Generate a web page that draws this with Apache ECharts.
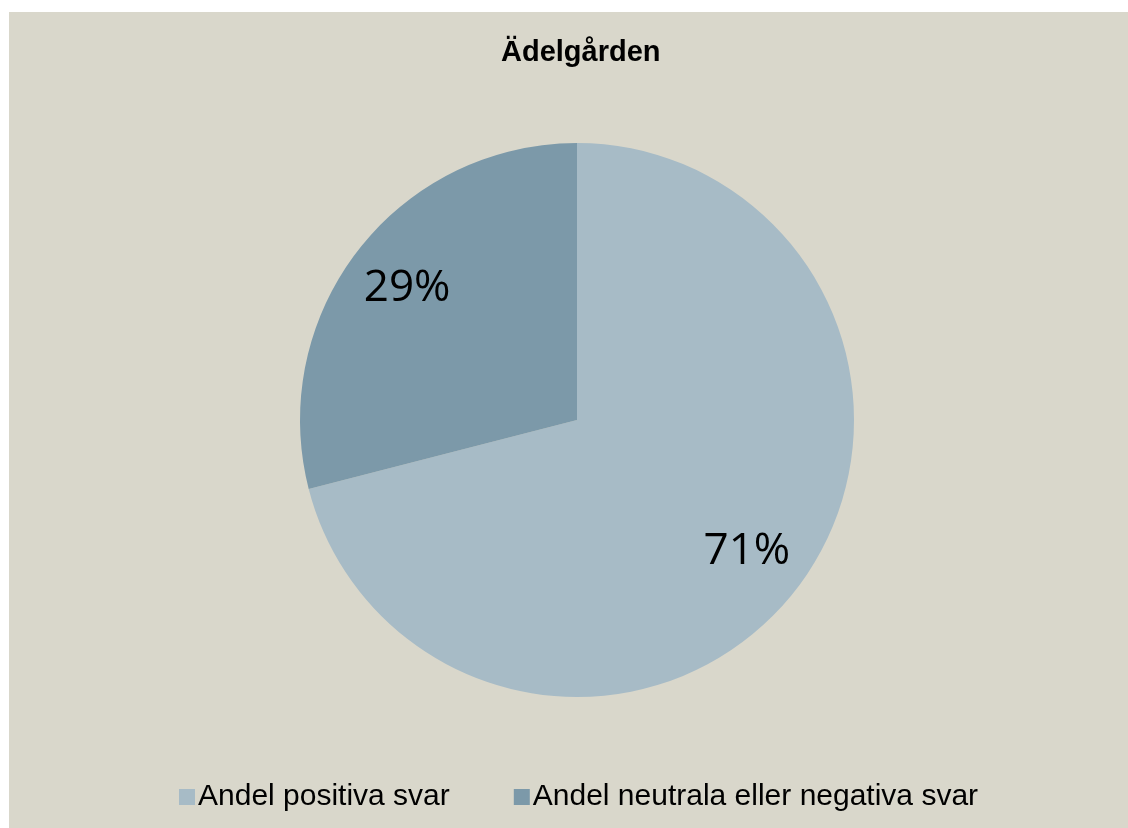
<!DOCTYPE html>
<html lang="sv">
<head>
<meta charset="utf-8">
<script src="https://cdn.jsdelivr.net/npm/echarts@6/dist/echarts.min.js"></script>
<style>
  html, body { margin: 0; padding: 0; background: #ffffff; }
  #frame { position: absolute; left: 9px; top: 12px; width: 1119px; height: 816px; background: #d9d7cb; }
  #main { width: 1119px; height: 816px; }
</style>
</head>
<body>
<div id="frame"><div id="main"></div></div>
<script type="text/javascript">
  var chartTitle = 'Ädelgården';
  var categories = ['Andel positiva svar', 'Andel neutrala eller negativa svar'];
  var shares = [71, 29];
  var sliceColors = ['#a7bbc6', '#7c99a9'];

  var pieData = categories.map(function(name, i) {
    return { name: name, value: shares[i], itemStyle: { color: sliceColors[i] } };
  });

  var chart = echarts.init(document.getElementById('main'));
  chart.setOption({
    backgroundColor: 'transparent',
    animation: false,
    title: {
      text: chartTitle,
      left: 487,
      top: 21,
      textStyle: { fontFamily: 'Liberation Sans', fontSize: 29, fontWeight: 'bold', color: '#000000' }
    },
    legend: {
      left: 165,
      top: 765,
      itemWidth: 16,
      itemHeight: 16,
      itemGap: 64,
      icon: 'rect',
      data: categories.map(function(name, i) {
        return { name: name, itemStyle: { color: sliceColors[i] } };
      }),
      textStyle: { fontFamily: 'Liberation Sans', fontSize: 30, color: '#000000', padding: [0, 0, 0, -2] }
    },
    series: [
      {
        type: 'pie',
        center: [568, 408],
        radius: [0, 277],
        startAngle: 90,
        clockwise: true,
        label: { show: false },
        labelLine: { show: false },
        emphasis: { disabled: true },
        data: pieData
      },
      {
        // transparent ring only used to place the percent labels further out
        type: 'pie',
        center: [568, 408],
        radius: [147, 277],
        startAngle: 90,
        clockwise: true,
        silent: true,
        itemStyle: { color: 'rgba(0,0,0,0)' },
        label: {
          show: true,
          position: 'inside',
          formatter: function(p) { return Math.round(p.percent) + '%'; },
          fontFamily: 'Open Sans',
          fontSize: 44,
          color: '#000000'
        },
        labelLine: { show: false },
        data: categories.map(function(name, i) {
          return { name: name, value: shares[i] };
        })
      }
    ]
  });
</script>
</body>
</html>
